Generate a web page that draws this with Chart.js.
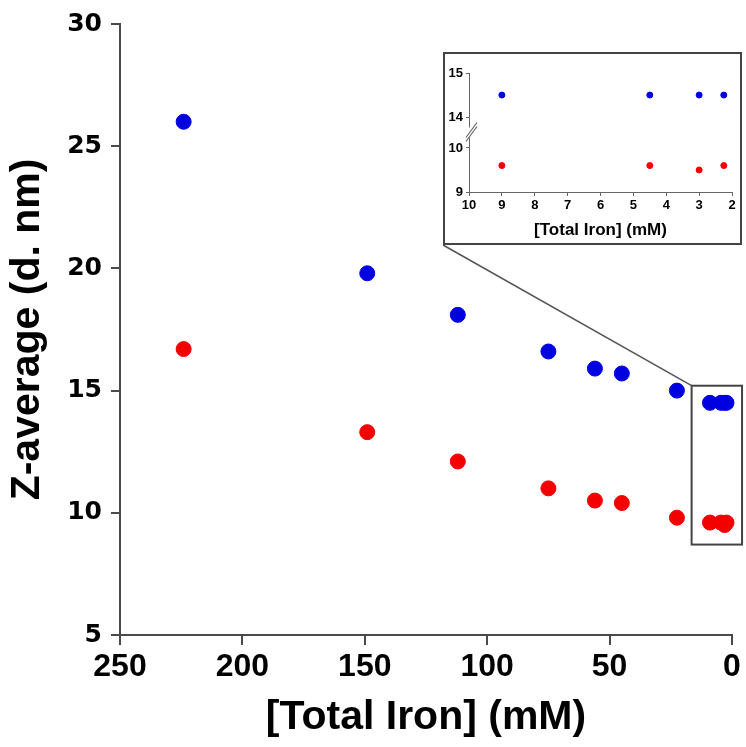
<!DOCTYPE html>
<html><head><meta charset="utf-8">
<script src="https://cdn.jsdelivr.net/npm/chart.js@4"></script>
<style>
html,body{margin:0;padding:0;background:#fff;}
#wrap{position:relative;width:746px;height:747px;overflow:hidden;}
#main{position:absolute;left:0;top:0;}
#insetBox{position:absolute;left:443px;top:52px;width:295px;height:189px;border:2px solid #444;background:#fff;}
#inset{position:absolute;left:0;top:0;}
</style></head>
<body>
<div id="wrap">
<canvas id="main" width="746" height="747"></canvas>
<div id="insetBox"><canvas id="inset" width="295" height="189"></canvas></div>
</div>
<script>
// ---- data ----
const ironMain   = [224, 149, 112, 75, 56, 45, 22.5, 9, 4.5, 3, 2.25];
const zBlue      = [26.0, 19.8, 18.1, 16.6, 15.9, 15.7, 15.0, 14.5, 14.5, 14.5, 14.5];
const zRed       = [16.7, 13.3, 12.1, 11.0, 10.5, 10.4, 9.8, 9.6, 9.6, 9.5, 9.6];
const ironInset  = [9, 4.5, 3, 2.25];
const zBlueInset = [14.5, 14.5, 14.5, 14.5];
const zRedInset  = [9.6, 9.6, 9.5, 9.6];
const mainXTicks = [0, 50, 100, 150, 200, 250];
const mainYTicks = [5, 10, 15, 20, 25, 30];
const insetXTicks = [2, 3, 4, 5, 6, 7, 8, 9, 10];
const insetYTicksUpper = [14, 15];
const insetYTicksLower = [9, 10];
const xTitle = '[Total Iron] (mM)';
const yTitle = 'Z-average (d. nm)';

const BLUE = 'rgb(0,0,225)';
const RED = 'rgb(245,0,0)';
const AXIS = '#4a4a4a';

function pts(xs, ys){ return xs.map((x,i)=>({x:x, y:ys[i]})); }
function setTicks(arr){ return function(scale){ scale.ticks = arr.map(v=>({value:v})); }; }

// zoom rectangle + connector line on the main chart
const zoomPlugin = {
  id:'zoomBox',
  afterDraw(chart){
    const {ctx, scales:{x, y}} = chart;
    const l = x.getPixelForValue(16.5), r = x.getPixelForValue(-4.1);
    const t = y.getPixelForValue(15.2), b = y.getPixelForValue(8.7);
    ctx.save();
    ctx.strokeStyle = '#444';
    ctx.lineWidth = 2;
    ctx.strokeRect(l, t, r - l, b - t);
    const box = document.getElementById('insetBox');
    const sx = box.offsetLeft, sy = box.offsetTop + box.offsetHeight;
    ctx.lineWidth = 1.5;
    ctx.strokeStyle = '#555';
    ctx.beginPath();
    ctx.moveTo(sx, sy);
    ctx.lineTo(l, t);
    ctx.stroke();
    ctx.restore();
  }
};

new Chart(document.getElementById('main'), {
  type:'scatter',
  data:{datasets:[
    {label:'Blue series', data:pts(ironMain, zBlue), backgroundColor:BLUE, borderColor:BLUE, pointRadius:7.5, pointHoverRadius:7.5, clip:false},
    {label:'Red series', data:pts(ironMain, zRed), backgroundColor:RED, borderColor:RED, pointRadius:7.5, pointHoverRadius:7.5, clip:false}
  ]},
  options:{
    responsive:false, animation:false, devicePixelRatio:1,
    layout:{padding:{left:0, top:24, right:14, bottom:0}},
    plugins:{legend:{display:false}, tooltip:{enabled:false}},
    scales:{
      x:{type:'linear', min:0, max:250, reverse:true,
        afterBuildTicks:setTicks(mainXTicks),
        afterFit(s){ s.height = 112; },
        grid:{display:true, drawOnChartArea:false, drawTicks:true, tickLength:10, color:AXIS, lineWidth:2},
        border:{display:true, color:AXIS, width:2},
        ticks:{color:'#000', padding:3, maxRotation:0, font:{family:'"Liberation Sans", Arial', weight:'bold', size:32}},
        title:{display:true, text:xTitle, color:'#000', padding:{top:0, bottom:5}, font:{family:'"Liberation Sans", Arial', weight:'bold', size:41}}
      },
      y:{type:'linear', min:5, max:30,
        afterBuildTicks:setTicks(mainYTicks),
        afterFit(s){ s.width = 120; },
        grid:{display:true, drawOnChartArea:false, drawTicks:true, tickLength:9, color:AXIS, lineWidth:2},
        border:{display:true, color:AXIS, width:2},
        ticks:{color:'#000', padding:9, font:{family:'"DejaVu Sans", sans-serif', weight:'bold', size:25}},
        title:{display:true, text:yTitle, color:'#000', padding:{top:3, bottom:0}, font:{family:'"Liberation Sans", Arial', weight:'bold', size:41}}
      }
    }
  },
  plugins:[zoomPlugin]
});

// axis break marks for inset
const breakPlugin = {
  id:'axisBreak',
  afterDraw(chart){
    const {ctx, scales} = chart;
    const up = scales.yUp, lo = scales.yLo;
    const xAxis = up.right;
    const jy = (up.bottom + lo.top) / 2;
    ctx.save();
    ctx.fillStyle = '#fff';
    ctx.fillRect(xAxis - 3, jy - 5, 6, 10);
    ctx.strokeStyle = '#666';
    ctx.lineWidth = 1.2;
    ctx.beginPath();
    ctx.moveTo(xAxis - 3, jy + 9); ctx.lineTo(xAxis + 8, jy - 6);
    ctx.moveTo(xAxis - 3, jy + 5); ctx.lineTo(xAxis + 8, jy - 10);
    ctx.stroke();
    ctx.restore();
  }
};

const insetTickFont = {family:'"Liberation Sans", Arial', weight:'bold', size:13};
new Chart(document.getElementById('inset'), {
  type:'scatter',
  data:{datasets:[
    {label:'Blue series', data:pts(ironInset, zBlueInset), yAxisID:'yUp', backgroundColor:BLUE, borderColor:BLUE, pointRadius:3, pointHoverRadius:3, clip:false},
    {label:'Red series', data:pts(ironInset, zRedInset), yAxisID:'yLo', backgroundColor:RED, borderColor:RED, pointRadius:3, pointHoverRadius:3, clip:false}
  ]},
  options:{
    responsive:false, animation:false, devicePixelRatio:1,
    layout:{padding:{left:0, top:19, right:8, bottom:0}},
    plugins:{legend:{display:false}, tooltip:{enabled:false}},
    scales:{
      x:{type:'linear', min:2, max:10, reverse:true,
        afterBuildTicks:setTicks(insetXTicks),
        afterFit(s){ s.height = 51; },
        grid:{display:true, drawOnChartArea:false, drawTicks:true, tickLength:4, color:'#666', lineWidth:1},
        border:{display:true, color:'#666', width:1},
        ticks:{color:'#000', padding:2, maxRotation:0, font:insetTickFont},
        title:{display:true, text:xTitle, color:'#000', padding:{top:0, bottom:2}, font:{family:'"Liberation Sans", Arial', weight:'bold', size:17}}
      },
      yLo:{type:'linear', position:'left', stack:'insetY', stackWeight:1, min:9, max:10.35,
        afterBuildTicks:setTicks(insetYTicksLower),
        afterFit(s){ s.width = 24; },
        grid:{display:true, drawOnChartArea:false, drawTicks:true, tickLength:3, color:'#666', lineWidth:1},
        border:{display:true, color:'#666', width:1},
        ticks:{color:'#000', padding:3, font:insetTickFont}
      },
      yUp:{type:'linear', position:'left', stack:'insetY', stackWeight:1, min:13.65, max:15,
        afterBuildTicks:setTicks(insetYTicksUpper),
        afterFit(s){ s.width = 24; },
        grid:{display:true, drawOnChartArea:false, drawTicks:true, tickLength:3, color:'#666', lineWidth:1},
        border:{display:true, color:'#666', width:1},
        ticks:{color:'#000', padding:3, font:insetTickFont}
      }
    }
  },
  plugins:[breakPlugin]
});
</script>
</body></html>
